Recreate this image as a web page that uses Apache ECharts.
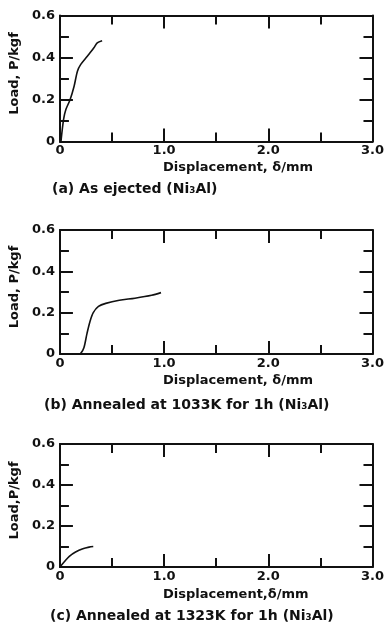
<!DOCTYPE html>
<html>
<head>
<meta charset="utf-8">
<script src="https://cdn.jsdelivr.net/npm/echarts@6/dist/echarts.min.js"></script>
<style>
  html, body { margin: 0; padding: 0; background: #fff; }
  #chart { width: 387px; height: 628px; }
</style>
</head>
<body>
<div id="chart"></div>
<script>
// load-displacement curves
const ejectedCurve = [[0.01, 0], [0.035, 0.105], [0.057, 0.152], [0.098, 0.2], [0.136, 0.263],
  [0.168, 0.335], [0.2, 0.367], [0.263, 0.406], [0.326, 0.446], [0.358, 0.47], [0.405, 0.48]];
const anneal1033Curve = [[0.18, 0], [0.2, 0.003], [0.23, 0.03], [0.26, 0.1], [0.29, 0.16],
  [0.32, 0.2], [0.37, 0.23], [0.44, 0.245], [0.57, 0.26], [0.72, 0.27], [0.88, 0.284], [0.97, 0.297]];
const anneal1323Curve = [[0, 0], [0.04, 0.024], [0.09, 0.052], [0.15, 0.073], [0.22, 0.089],
  [0.28, 0.097], [0.32, 0.1]];

const xRange = [0, 3.0];
const yRange = [0, 0.6];
const captions = ['(a) As ejected (Ni₃Al)', '(b) Annealed at 1033K for 1h (Ni₃Al)', '(c) Annealed at 1323K for 1h (Ni₃Al)'];
const xNames = ['Displacement, δ/mm', 'Displacement, δ/mm', 'Displacement,δ/mm'];
const yNames = ['Load, P/kgf', 'Load, P/kgf', 'Load,P/kgf'];

const FONT = 'DejaVu Sans';
const ink = '#111';

const grids = [
  { left: 55.5, top: 15.5, width: 318.5, height: 126 },
  { left: 55, top: 230, width: 324, height: 124 },
  { left: 57, top: 444, width: 321, height: 123 }
];

const chart = echarts.init(document.getElementById('chart'));

const xAxes = [];
const yAxes = [];
grids.forEach((g, i) => {
  ['bottom', 'top'].forEach(pos => {
    xAxes.push({
      type: 'value', gridIndex: i, position: pos,
      min: xRange[0], max: xRange[1], interval: 1.0,
      axisLine: { onZero: false, lineStyle: { color: ink, width: 2 } },
      axisTick: { inside: true, length: 13, lineStyle: { color: ink, width: 2 } },
      minorTick: { show: true, splitNumber: 2, length: 9, lineStyle: { color: ink, width: 2 } },
      splitLine: { show: false },
      axisLabel: {
        show: pos === 'bottom', color: ink, fontFamily: FONT, fontWeight: 'bold', fontSize: 13, margin: 3,
        formatter: v => v === 0 ? '0' : v.toFixed(1)
      }
    });
  });
  ['left', 'right'].forEach(pos => {
    yAxes.push({
      type: 'value', gridIndex: i, position: pos,
      min: yRange[0], max: yRange[1], interval: 0.2,
      name: pos === 'left' ? yNames[i] : '',
      nameLocation: 'middle', nameGap: 33,
      nameTextStyle: { color: ink, fontFamily: FONT, fontWeight: 'bold', fontSize: 13, padding: [0, 0, 0, 10] },
      axisLine: { onZero: false, lineStyle: { color: ink, width: 2 } },
      axisTick: { inside: true, length: 13, lineStyle: { color: ink, width: 2 } },
      minorTick: { show: true, splitNumber: 2, length: 9, lineStyle: { color: ink, width: 2 } },
      splitLine: { show: false },
      axisLabel: {
        show: pos === 'left', color: ink, fontFamily: FONT, fontWeight: 'bold', fontSize: 13, margin: 5,
        formatter: v => v === 0 ? '0' : v.toFixed(1)
      }
    });
  });
});

const curves = [ejectedCurve, anneal1033Curve, anneal1323Curve];
const series = curves.map((c, i) => ({
  type: 'line', xAxisIndex: i * 2, yAxisIndex: i * 2,
  data: c, smooth: 0.3, showSymbol: false, silent: true,
  lineStyle: { color: ink, width: 1.6 }
}));

const textStyle = { color: ink, fontFamily: FONT, fontWeight: 'bold', fontSize: 13 };
const capStyle = Object.assign({}, textStyle, { fontSize: 14 });
const nameTops = [161, 374, 588];
const nameLefts = [163, 163, 163];
const capTops = [182, 398, 609];
const capLefts = [52, 44, 50];
const titles = [];
grids.forEach((g, i) => {
  titles.push({ text: xNames[i], left: nameLefts[i], top: nameTops[i], padding: 0, textStyle });
  titles.push({ text: captions[i], left: capLefts[i], top: capTops[i], padding: 0, textStyle: capStyle });
});

chart.setOption({
  animation: false,
  backgroundColor: '#fff',
  title: titles,
  grid: grids,
  xAxis: xAxes,
  yAxis: yAxes,
  series
});
</script>
</body>
</html>
